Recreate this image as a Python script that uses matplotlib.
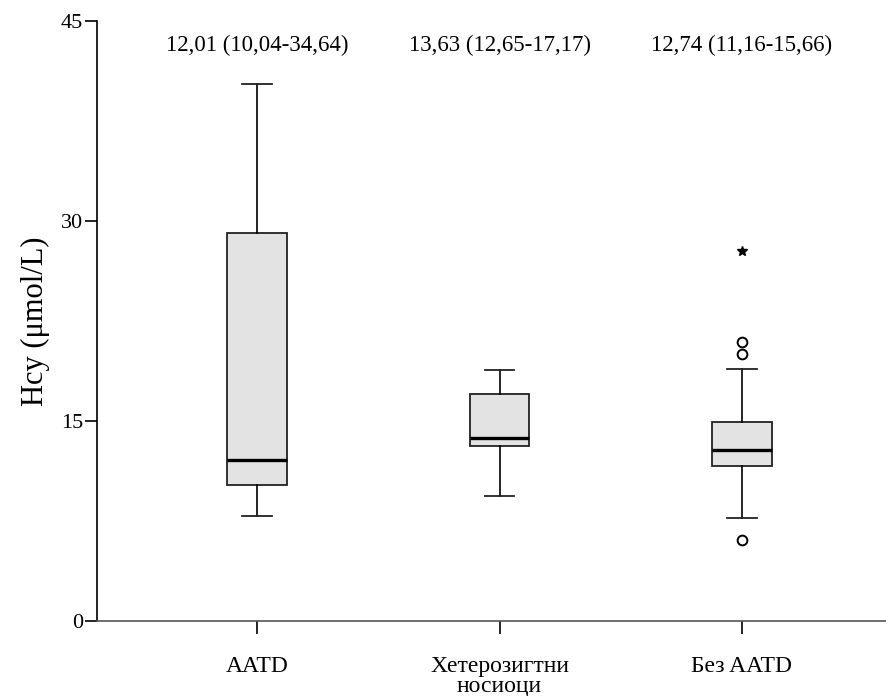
import matplotlib
matplotlib.use("Agg")
import matplotlib.pyplot as plt

plt.rcParams['font.family'] = ['Liberation Serif', 'DejaVu Serif']

# groups and box statistics
groups = ['AATD', 'Хетерозигтни\nносиоци', 'Без AATD']
whislo = [7.9, 9.4, 7.7]
q1 = [10.2, 13.1, 11.6]
med = [12.1, 13.7, 12.8]
q3 = [29.1, 17.0, 14.9]
whishi = [40.3, 18.8, 18.9]
outliers = [[], [], [20.9, 20.0, 6.1]]
extremes = [[], [], [27.75]]
labels_top = ['12,01 (10,04-34,64)', '13,63 (12,65-17,17)', '12,74 (11,16-15,66)']

stats = []
for i in range(len(groups)):
    stats.append(dict(whislo=whislo[i], q1=q1[i], med=med[i], q3=q3[i],
                      whishi=whishi[i], fliers=outliers[i]))

fig = plt.figure(figsize=(8.87, 6.96), dpi=100)
ax = fig.add_axes([97/887, 75/696, 1 - 97/887, 600/696])

pos = [1, 2, 3]
ax.bxp(stats, positions=pos, widths=0.247, patch_artist=True,
       boxprops=dict(facecolor='#e3e3e3', edgecolor='#222222', linewidth=1.3),
       medianprops=dict(color='black', linewidth=2.4),
       whiskerprops=dict(color='black', linewidth=1.2),
       capprops=dict(color='#222222', linewidth=1.3),
       flierprops=dict(marker='o', markerfacecolor='none', markeredgecolor='black',
                       markersize=7, markeredgewidth=1.4))

for i in range(len(groups)):
    if extremes[i]:
        ax.plot([pos[i]] * len(extremes[i]), extremes[i], marker='*', linestyle='none',
                color='black', markersize=7)

for i, t in enumerate(labels_top):
    ax.text(pos[i], 43.2, t, ha='center', va='center', fontsize=16.5)

ax.set_xlim(0.34, 3.598)
ax.set_ylim(0, 45)
ax.set_yticks([0, 15, 30, 45])
ax.set_xticks(pos)
ax.set_xticklabels(groups, fontsize=17, linespacing=0.95)
ax.tick_params(axis='y', labelsize=16, length=9, width=1.2, pad=1)
ax.tick_params(axis='x', length=9, width=1.2, pad=16)
ax.set_ylabel('Hcy (μmol/L)', fontsize=22, labelpad=8)

ax.spines['top'].set_visible(False)
ax.spines['right'].set_visible(False)
ax.spines['left'].set_linewidth(1.2)
ax.spines['bottom'].set_linewidth(1.2)
ax.spines['bottom'].set_color('#555555')
ax.patch.set_alpha(0)

fig.savefig('out.png', dpi=100)
